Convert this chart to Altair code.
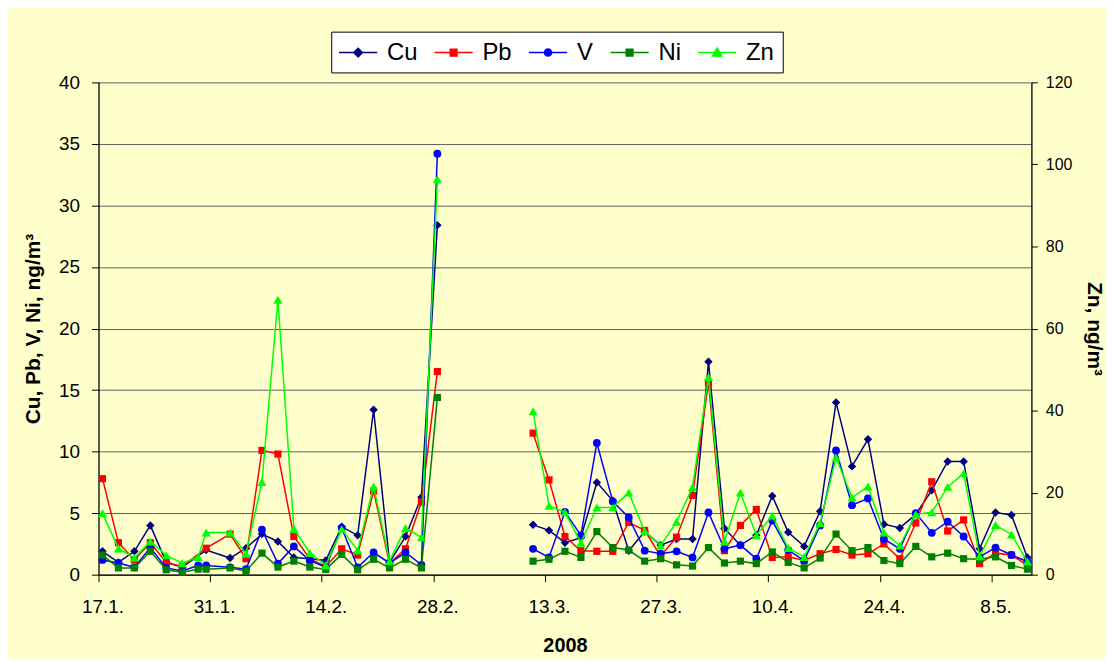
import json
import pandas as pd
import altair as alt

# ---------------- data ----------------
dates = [
    "2008-01-17", "2008-01-19", "2008-01-21", "2008-01-23", "2008-01-25", "2008-01-27",
    "2008-01-29", "2008-01-30", "2008-02-02", "2008-02-04", "2008-02-06", "2008-02-08",
    "2008-02-10", "2008-02-12", "2008-02-14", "2008-02-16", "2008-02-18", "2008-02-20",
    "2008-02-22", "2008-02-24", "2008-02-26", "2008-02-28",
    "2008-03-11", "2008-03-13", "2008-03-15", "2008-03-17", "2008-03-19", "2008-03-21",
    "2008-03-23", "2008-03-25", "2008-03-27", "2008-03-29", "2008-03-31", "2008-04-02",
    "2008-04-04", "2008-04-06", "2008-04-08", "2008-04-10", "2008-04-12", "2008-04-14",
    "2008-04-16", "2008-04-18", "2008-04-20", "2008-04-22", "2008-04-24", "2008-04-26",
    "2008-04-28", "2008-04-30", "2008-05-02", "2008-05-04", "2008-05-06", "2008-05-08",
    "2008-05-10", "2008-05-12",
]

cu = [1.9, 1.0, 1.9, 4.0, 1.0, 0.6, None, 2.0, 1.35, 2.15, 3.3, 2.7, 1.4, 1.3, 1.15, 3.9,
      3.2, 13.4, 1.0, 3.1, 6.3, 28.4,
      4.05, 3.6, 2.6, 3.0, 7.5, 6.0, 1.95, 3.5, 2.4, 2.9, 2.9, 17.3, 3.75, 2.4, 3.2, 6.4,
      3.45, 2.3, 5.15, 14.0, 8.8, 11.0, 4.1, 3.8, 4.9, 6.85, 9.2, 9.2, 2.1, 5.05, 4.85, 1.4]
pb = [7.8, 2.6, 1.2, 2.6, 1.0, 0.65, None, 2.15, 3.3, 1.3, 10.1, 9.8, 3.1, 1.3, 0.65, 2.1,
      1.6, 6.8, 0.9, 2.1, 5.9, 16.5,
      11.5, 7.7, 3.1, 1.95, 1.9, 1.9, 4.25, 3.6, 1.5, 3.05, 6.45, 15.6, 1.95, 4.0, 5.3, 1.4,
      1.45, 1.15, 1.7, 2.05, 1.6, 1.7, 2.5, 1.3, 4.2, 7.55, 3.55, 4.45, 0.9, 1.75, 1.6, 0.75]
v = [1.2, 0.95, 0.6, 2.2, 0.55, 0.3, 0.75, 0.75, 0.6, 0.45, 3.65, 0.9, 2.3, 1.15, 0.6, 3.8,
     0.6, 1.8, 0.95, 1.8, 0.8, 34.2,
     2.1, 1.4, 5.1, 3.2, 10.7, 5.95, 4.65, 1.95, 1.7, 1.9, 1.4, 5.05, 2.1, 2.4, 1.3, 4.4,
     2.0, 1.15, 4.0, 10.1, 5.65, 6.2, 2.9, 2.1, 5.0, 3.4, 4.3, 3.1, 1.45, 2.2, 1.6, 1.05]
ni = [1.6, 0.55, 0.55, 1.9, 0.4, 0.2, 0.45, 0.45, 0.55, 0.3, 1.75, 0.62, 1.1, 0.62, 0.43, 1.65,
      0.4, 1.25, 0.55, 1.25, 0.55, 14.4,
      1.1, 1.25, 1.9, 1.4, 3.5, 2.2, 2.0, 1.1, 1.3, 0.8, 0.7, 2.2, 0.95, 1.1, 0.9, 1.85,
      1.0, 0.55, 1.35, 3.3, 1.95, 2.2, 1.15, 0.9, 2.3, 1.45, 1.75, 1.3, 1.25, 1.45, 0.75, 0.45]
zn = [15.0, 6.4, 4.1, 8.1, 4.7, 2.8, 4.3, 10.3, 10.3, 5.1, 22.6, 67.0, 11.2, 5.3, 2.3, 11.1,
      5.9, 21.5, 3.3, 11.4, 9.1, 96.4,
      39.8, 16.8, 15.2, 7.8, 16.4, 16.4, 20.0, 10.6, 7.1, 12.9, 21.3, 48.2, 8.1, 20.0, 9.6, 14.4,
      6.5, 4.3, 12.6, 28.5, 18.8, 21.5, 10.3, 7.1, 14.7, 15.2, 21.4, 24.7, 4.5, 12.1, 9.8, 3.2]

series_names = ["Cu", "Pb", "V", "Ni", "Zn"]
tick_dates = ["2008-01-17", "2008-01-31", "2008-02-14", "2008-02-28", "2008-03-13",
              "2008-03-27", "2008-04-10", "2008-04-24", "2008-05-08"]
tick_labels = ["17.1.", "31.1.", "14.2.", "28.2.", "13.3.", "27.3.", "10.4.", "24.4.", "8.5."]
axis_end_date = "2008-05-13"

# ---------------- styles ----------------
colors = ["#000080", "#FF0000", "#0000FF", "#008000", "#00FF00"]
shapes = ["diamond", "square", "circle", "square", "triangle-up"]
sizes = [72, 52, 62, 52, 85]
legend_paths = [
    "M-1.6,0H1.6M0,-0.36L0.36,0L0,0.36L-0.36,0Z",
    "M-1.6,0H1.6M-0.28,-0.28H0.28V0.28H-0.28Z",
    "M-1.6,0H1.6M0.3,0A0.3,0.3,0,1,1,-0.3,0A0.3,0.3,0,1,1,0.3,0Z",
    "M-1.6,0H1.6M-0.28,-0.28H0.28V0.28H-0.28Z",
    "M-1.6,0H1.6M0,-0.36L0.38,0.28H-0.38Z",
]
FONT = "Liberation Sans"

# ---------------- table ----------------
start = pd.Timestamp(dates[0])
rows = []
for name, vals in zip(series_names, [cu, pb, v, ni, zn]):
    for d, val in zip(dates, vals):
        if val is None:
            continue
        day = (pd.Timestamp(d) - start).days
        rows.append({"series": name, "pos": day + 0.5, "seg": "a" if day < 48 else "b",
                     "value": val})
df = pd.DataFrame(rows)

tick_vals = [(pd.Timestamp(t) - start).days for t in tick_dates]
x_end = (pd.Timestamp(axis_end_date) - start).days
label_expr = f"{json.dumps(tick_labels)}[round(datum.value / 14)]"

x_enc = alt.X(
    "pos:Q",
    scale=alt.Scale(domain=[0, x_end], nice=False, zero=False),
    axis=alt.Axis(
        values=tick_vals, labelExpr=label_expr, grid=False, tickSize=7, tickColor="black",
        domainColor="black", domainWidth=1.3, labelFontSize=19, labelColor="black",
        labelPadding=16, labelOffset=4, labelFlush=False, labelOverlap=False,
        labelFont=FONT, title="2008", titleFont=FONT, titleFontSize=20,
        titleFontWeight="bold", titleColor="black", titlePadding=19,
    ),
)

y_left = alt.Y(
    "value:Q",
    scale=alt.Scale(domain=[0, 40], nice=False, zero=True),
    axis=alt.Axis(
        orient="left", values=list(range(0, 41, 5)), grid=True, gridColor="#606060",
        gridWidth=1, tickSize=7, tickColor="black", domainColor="black", domainWidth=1.3,
        labelFontSize=19, labelColor="black", labelPadding=12, labelFont=FONT,
        labelFlush=False, title="Cu, Pb, V, Ni, ng/m³", titleFont=FONT, titleFontSize=21,
        titleFontWeight="bold", titleColor="black", titlePadding=15,
    ),
)

y_right = alt.Y(
    "value:Q",
    scale=alt.Scale(domain=[0, 120], nice=False, zero=True),
    axis=alt.Axis(
        orient="right", values=list(range(0, 121, 20)), grid=False, tickSize=6,
        tickColor="black", domainColor="black", domainWidth=1.3, labelFontSize=16,
        labelColor="black", labelPadding=8, labelFont=FONT, labelFlush=False,
        title="Zn, ng/m³", titleFont=FONT, titleFontSize=21, titleFontWeight="bold",
        titleColor="black", titlePadding=12,
    ),
)


def series_layers(i, y_enc):
    name = series_names[i]
    base = alt.Chart(df).transform_filter(alt.datum.series == name)
    line = base.mark_line(color=colors[i], strokeWidth=1.5).encode(
        x=x_enc, y=y_enc, detail="seg:N")
    pts = base.mark_point(filled=True, shape=shapes[i], size=sizes[i], color=colors[i],
                          opacity=1).encode(x=x_enc, y=y_enc)
    return [line, pts]


left_layers = []
for i in range(4):
    left_layers += series_layers(i, y_left)
left = alt.layer(*left_layers)
right = alt.layer(*series_layers(4, y_right))

legend_def = alt.Legend(
    title=None, orient="none", legendX=234, legendY=-51, direction="horizontal",
    columns=5, symbolSize=576, symbolStrokeWidth=1.5, symbolOffset=6, labelOffset=16,
    columnPadding=13, labelFontSize=24, labelFont=FONT, labelColor="black", padding=8,
    strokeColor="black", fillColor="white", symbolOpacity=1, labelLimit=0,
)
legend_layer = alt.Chart(alt.Data(values=[{"series": n} for n in series_names])).transform_filter(
    "false"
).mark_point(filled=True, opacity=1, strokeWidth=1.5).encode(
    color=alt.Color("series:N", scale=alt.Scale(domain=series_names, range=colors),
                    legend=legend_def),
    stroke=alt.Stroke("series:N", scale=alt.Scale(domain=series_names, range=colors),
                      legend=legend_def),
    shape=alt.Shape("series:N", scale=alt.Scale(domain=series_names, range=legend_paths),
                    legend=legend_def),
)

chart = (
    alt.layer(left, right, legend_layer)
    .resolve_scale(y="independent")
    .properties(
        width=938, height=495,
        autosize=alt.AutoSizeParams(type="none"),
        padding={"left": 91, "top": 73, "right": 75, "bottom": 84},
        background="#FFFFCC",
    )
    .configure(font=FONT)
    .configure_view(fill="white", strokeWidth=0)
)

chart.save("out.html", embed_options={"renderer": "svg", "actions": False})
